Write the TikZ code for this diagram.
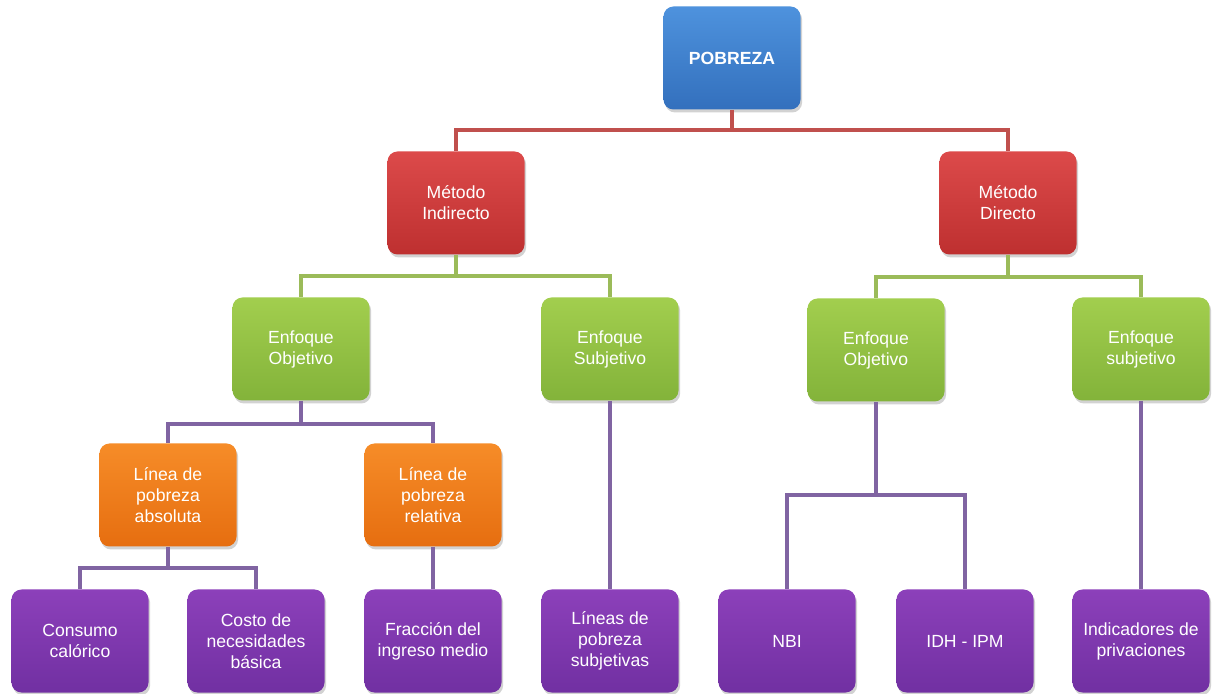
\documentclass[tikz,border=0pt]{standalone}
\usepackage{fontspec}
\setmainfont{Liberation Sans}
\usetikzlibrary{shadows}
\definecolor{bluetop}{HTML}{4E92DD}
\definecolor{bluebot}{HTML}{3370BD}
\definecolor{redtop}{HTML}{DC4A4A}
\definecolor{redbot}{HTML}{BE3030}
\definecolor{greentop}{HTML}{A2CE4E}
\definecolor{greenbot}{HTML}{83B33A}
\definecolor{orangetop}{HTML}{F68C28}
\definecolor{orangebot}{HTML}{E66E10}
\definecolor{purpletop}{HTML}{8C40BA}
\definecolor{purplebot}{HTML}{7130A2}
\definecolor{redline}{HTML}{C0504D}
\definecolor{greenline}{HTML}{9BBB59}
\definecolor{purpleline}{HTML}{8064A2}
\tikzset{
  box/.style={rectangle, rounded corners=5pt, minimum width=68.5pt, minimum height=51.5pt,
    align=center, text=white, inner sep=2pt,
    font=\fontsize{8.8}{10.5}\selectfont,
    drop shadow={opacity=0.35, shadow xshift=0.8pt, shadow yshift=-1.5pt}},
  bluebox/.style={box, top color=bluetop, bottom color=bluebot, font=\fontsize{8.8}{10.5}\selectfont\bfseries},
  redbox/.style={box, top color=redtop, bottom color=redbot},
  greenbox/.style={box, top color=greentop, bottom color=greenbot},
  orangebox/.style={box, top color=orangetop, bottom color=orangebot},
  purplebox/.style={box, top color=purpletop, bottom color=purplebot},
  redlink/.style={draw=redline, line width=2pt},
  greenlink/.style={draw=greenline, line width=2pt},
  purplelink/.style={draw=purpleline, line width=2pt},
}
\begin{document}
\begin{tikzpicture}[x=0.5pt, y=-0.5pt]
\useasboundingbox[fill=white] (0,0) rectangle (1215,694);
% nodes
\node[bluebox] (pob) at (732,58) {POBREZA};
\node[redbox] (mi) at (456,203) {Método\\Indirecto};
\node[redbox] (md) at (1008,203) {Método\\Directo};
\node[greenbox] (eo1) at (301,349) {Enfoque\\Objetivo};
\node[greenbox] (es1) at (610,349) {Enfoque\\Subjetivo};
\node[greenbox] (eo2) at (876,350) {Enfoque\\Objetivo};
\node[greenbox] (es2) at (1141,349) {Enfoque\\subjetivo};
\node[orangebox] (la) at (168,495) {Línea de\\pobreza\\absoluta};
\node[orangebox] (lr) at (433,495) {Línea de\\pobreza\\relativa};
\node[purplebox] (cc) at (80,641) {Consumo\\calórico};
\node[purplebox] (cn) at (256,641) {Costo de\\necesidades\\básica};
\node[purplebox] (fi) at (433,641) {Fracción del\\ingreso medio};
\node[purplebox] (lp) at (610,641) {Líneas de\\pobreza\\subjetivas};
\node[purplebox] (nbi) at (787,641) {NBI};
\node[purplebox] (idh) at (965,641) {IDH - IPM};
\node[purplebox] (ip) at (1141,641) {Indicadores de\\privaciones};
% bus levels
\coordinate (b1) at (0,130);
\coordinate (b2) at (0,276);
\coordinate (b3) at (0,277);
\coordinate (b4) at (0,424);
\coordinate (b5) at (0,568);
\coordinate (b6) at (0,495);
% connectors
\draw[redlink] (pob.south) -- (pob.south |- b1) -| (mi.north);
\draw[redlink] (pob.south |- b1) -| (md.north);
\draw[greenlink] (mi.south) -- (mi.south |- b2) -| (eo1.north);
\draw[greenlink] (mi.south |- b2) -| (es1.north);
\draw[greenlink] (md.south) -- (md.south |- b3) -| (eo2.north);
\draw[greenlink] (md.south |- b3) -| (es2.north);
\draw[purplelink] (eo1.south) -- (eo1.south |- b4) -| (la.north);
\draw[purplelink] (eo1.south |- b4) -| (lr.north);
\draw[purplelink] (la.south) -- (la.south |- b5) -| (cc.north);
\draw[purplelink] (la.south |- b5) -| (cn.north);
\draw[purplelink] (lr.south) -- (fi.north);
\draw[purplelink] (es1.south) -- (lp.north);
\draw[purplelink] (eo2.south) -- (eo2.south |- b6) -| (nbi.north);
\draw[purplelink] (eo2.south |- b6) -| (idh.north);
\draw[purplelink] (es2.south) -- (ip.north);
\end{tikzpicture}
\end{document}
